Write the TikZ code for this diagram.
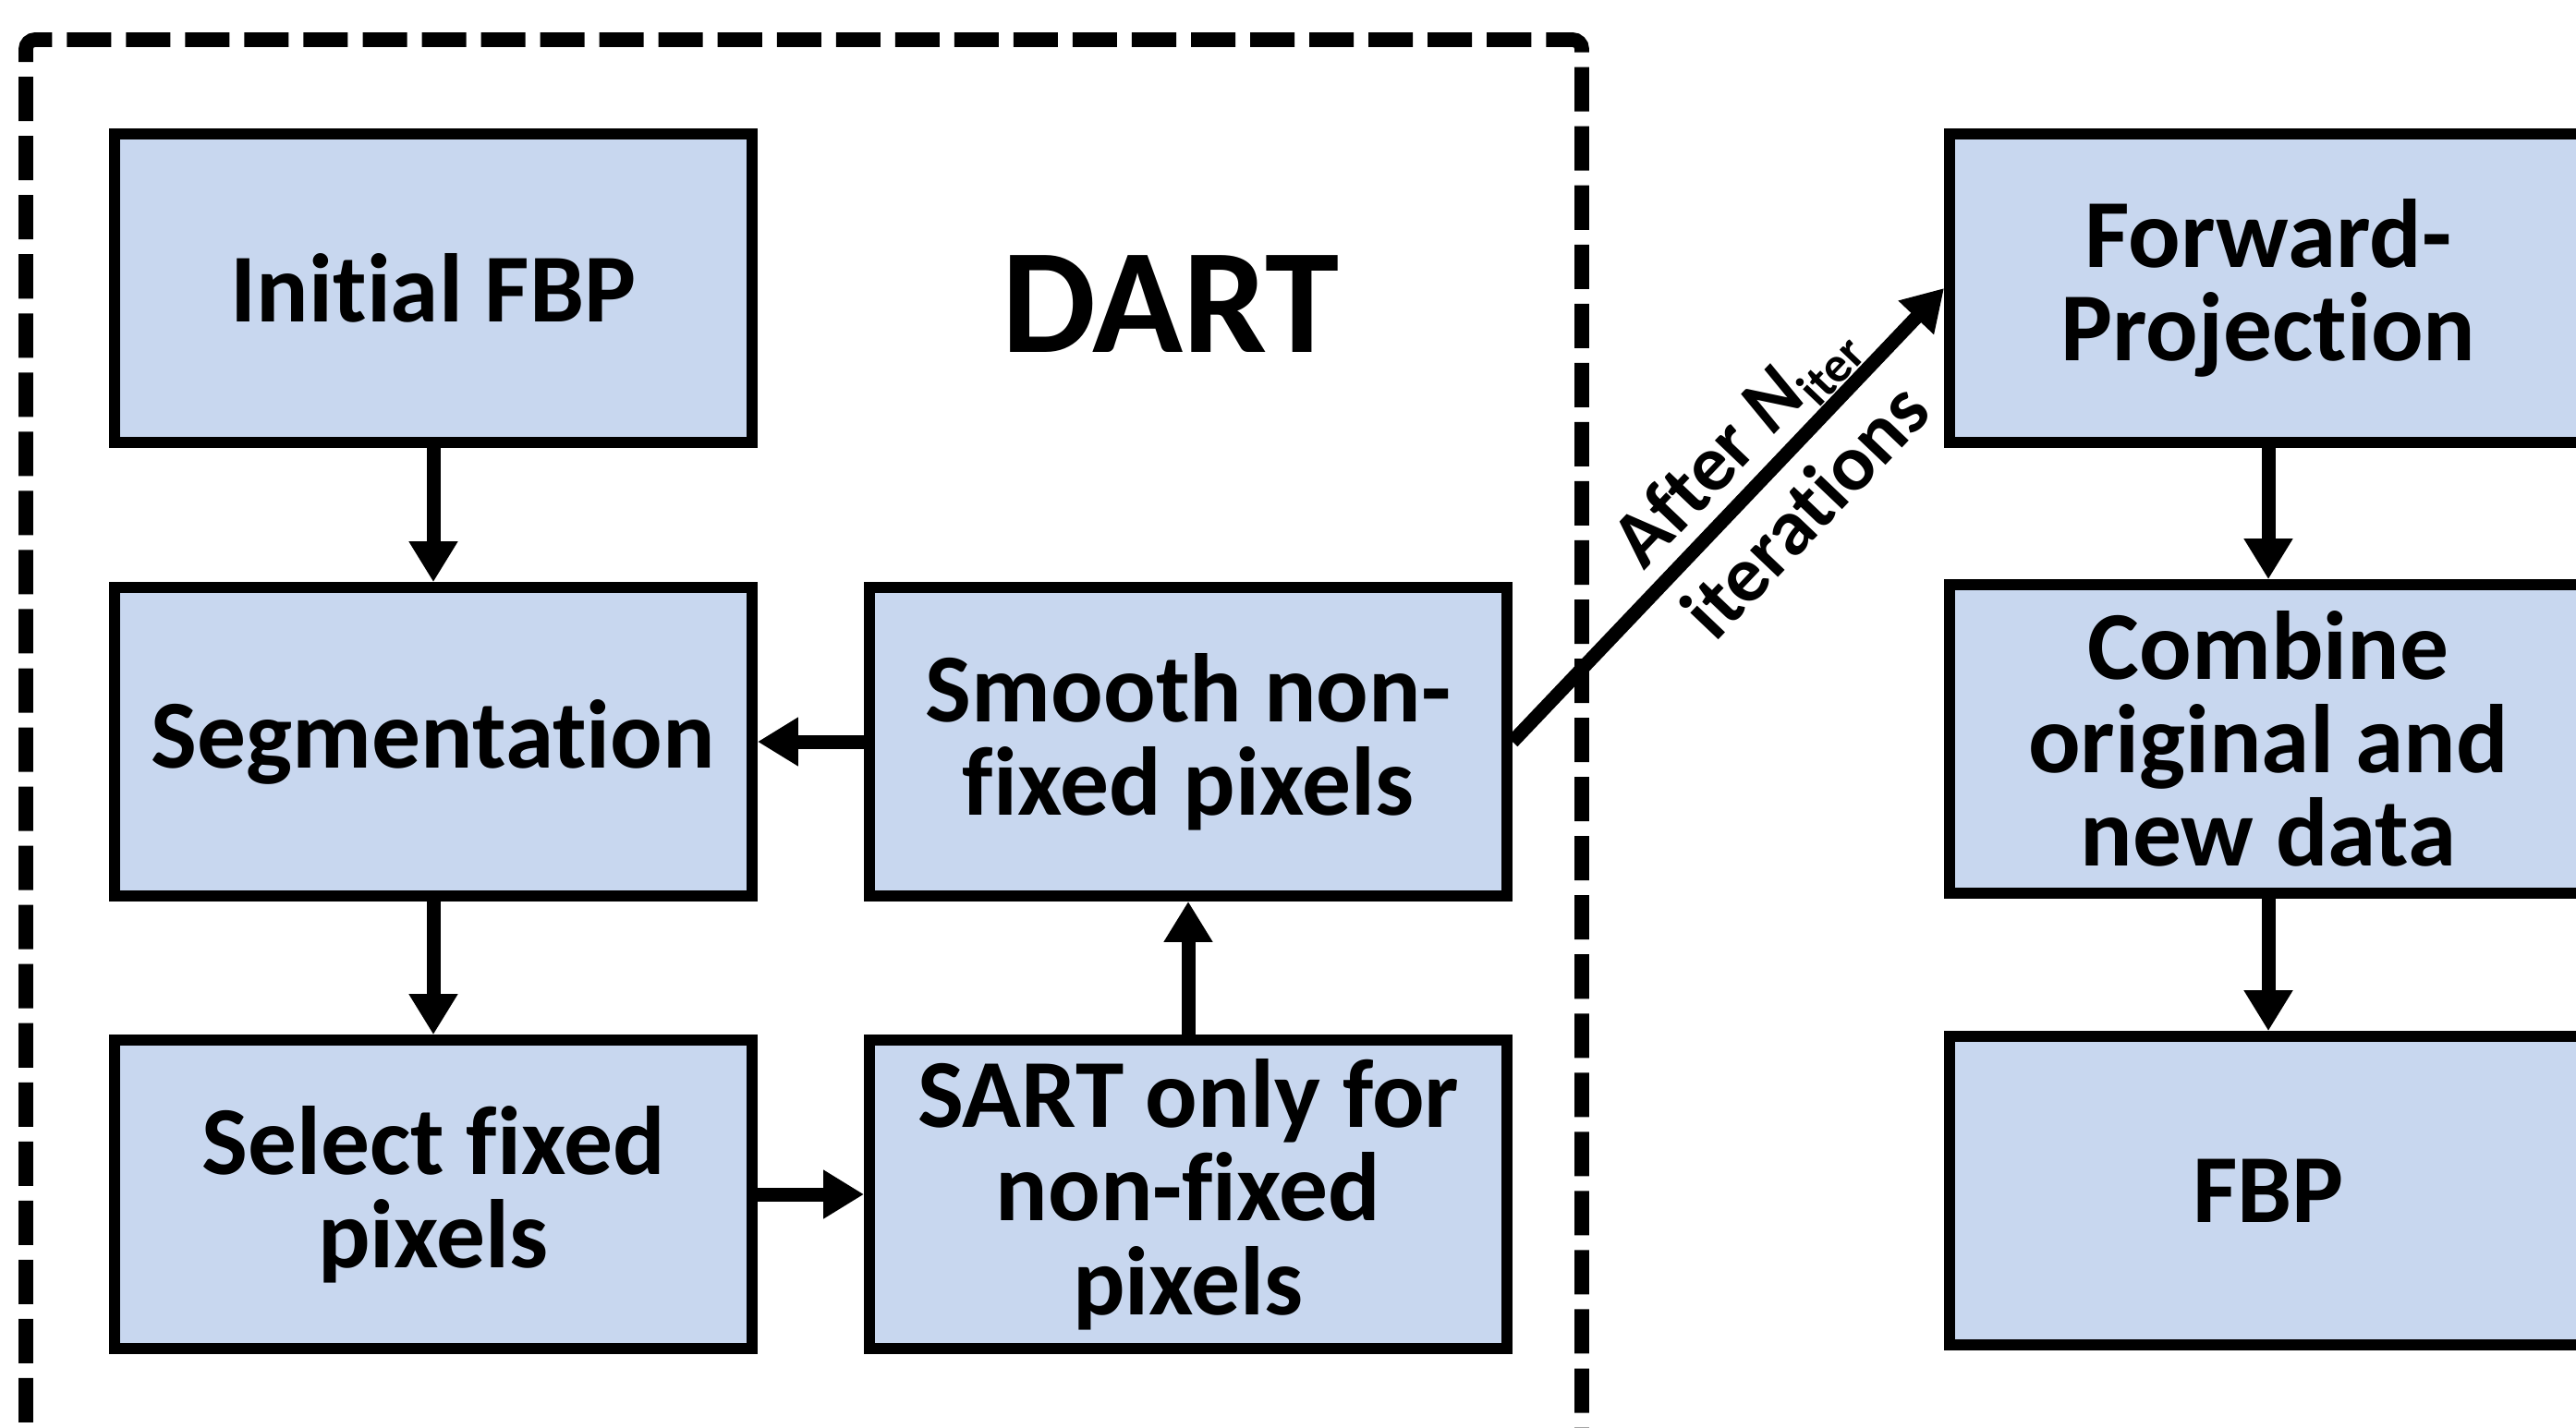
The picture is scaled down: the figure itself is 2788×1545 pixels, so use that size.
\documentclass[tikz,border=0pt]{standalone}
\usepackage{fontspec}
\setmainfont{Carlito}[Ligatures=NoCommon]
\usetikzlibrary{arrows.meta,calc}
\definecolor{boxfill}{RGB}{200,215,239}
\begin{document}
\begin{tikzpicture}[x=0.01cm,y=-0.01cm,
  block/.style={draw=black, line width=0.115cm, fill=boxfill,
    minimum width=6.9cm, minimum height=3.34cm, align=center, inner sep=0pt,
    font=\fontsize{30}{28.8}\selectfont\bfseries},
  flow/.style={line width=0.15cm, -{Triangle[length=0.44cm,width=0.5cm]}},
  lbl/.style={font=\fontsize{24.5}{24.5}\selectfont\bfseries, inner sep=0pt},
  frame/.style={line width=0.157cm, dash pattern=on 0.48cm off 0.16cm,
    dash phase=0.04cm, rounded corners=0.1cm}]
\useasboundingbox (0,0) rectangle (2788,1545);
\clip (0,0) rectangle (2788,1545);

% dashed DART frame (runs past the lower edge)
\draw[frame] (28,1600) -- (28,43) -- (1712,43) -- (1712,1600);

% DART loop
\node[block] (init)   at (469,312)   {Initial FBP};
\node[block] (seg)    at (469,803)   {Segmentation};
\node[block] (sel)    at (469,1293)  {Select fixed\\pixels};
\node[block] (smooth) at (1286,803)  {Smooth non-\\fixed pixels};
\node[block] (sart)   at (1286,1293) {SART only for\\non-fixed\\pixels};
\node[font=\fontsize{46}{46}\selectfont\bfseries] (dart) at (1267,329) {DART};

% post-processing column
\node[block] (fwd)  at (2455,312)  {Forward-\\Projection};
\node[block] (comb) at (2455,800)  {Combine\\original and\\new data};
\node[block] (fbp)  at (2455,1289) {FBP};

% connectors
\draw[flow] (init) -- (seg);
\draw[flow] (seg) -- (sel);
\draw[flow] (sel) -- (sart);
\draw[flow] (sart) -- (smooth);
\draw[flow] (smooth) -- (seg);
\draw[flow] (smooth.east) -- (fwd.west);
\draw[flow] (fwd) -- (comb);
\draw[flow] (comb) -- (fbp);

% labels of the exit arrow
\path (smooth.east) -- (fwd.west) coordinate[pos=0.59] (lblmid);
\node[lbl, rotate=46.4] (after) at ($(lblmid)!0.46cm!90:(fwd.west)$)
  {After \textit{N}\raisebox{-0.35ex}{\fontsize{15.5}{15.5}\selectfont iter}};
\node[lbl, rotate=46.4] (iters) at ($(lblmid)!0.56cm!-90:(fwd.west)$)
  {iterations};
\end{tikzpicture}
\end{document}
